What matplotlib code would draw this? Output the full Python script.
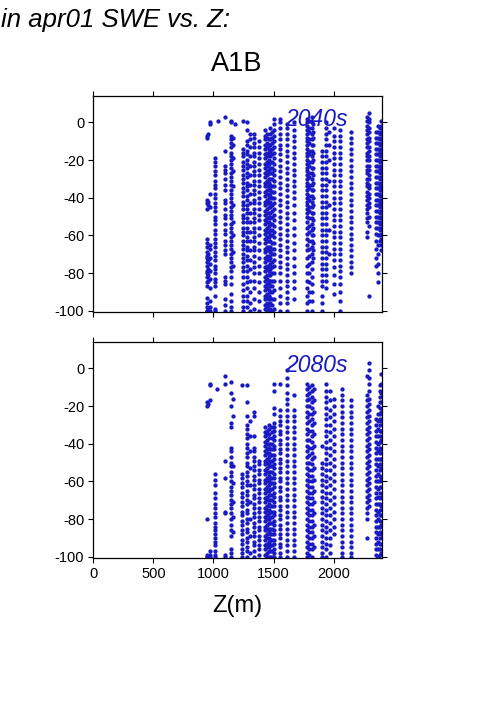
import numpy as np
import matplotlib.pyplot as plt

#==================#
# Data (read off)  #
#==================#

# column elevations (m) and the % change values found in each column
z_2040 = [945, 955, 972, 1010, 1035, 1097, 1150, 1160, 1178, 1247, 1283, 1300, 1339, 1383,
          1428, 1443, 1458, 1473, 1488, 1503, 1556, 1611, 1667, 1778, 1792, 1820, 1832,
          1903, 1940, 1958, 2000, 2056, 2145, 2280, 2295, 2350, 2368, 2385, 2398]
swe_2040 = [
    "-7 -8 -41 -43 -46 -62 -64 -66 -69 -71 -72 -74 -76 -79 -80 -82 -85 -87 -93 -96 -98 -100 -100",
    "-6 -42 -44 -70 -73 -78 -81 -84 -99 -100",
    "0 -1 -38 -45 -65 -67 -72 -75 -79 -83 -88 -95 -98 -100",
    "-19 -21 -23 -26 -28 -31 -33 -35 -38 -40 -43 -45 -47 -50 -52 -54 -57 -59 -62 -64 -66 -69 -71 -73 -76 -78 -80 -83 -85 -87 -92 -99 -100",
    "1",
    "3 -15 -23 -25 -27 -30 -33 -36 -41 -43 -46 -49 -51 -54 -57 -59 -63 -65 -68 -70 -82 -84 -86 -94 -97 -100",
    "1 0 -7 -9 -11 -13 -16 -18 -20 -22 -24 -27 -29 -31 -33 -36 -38 -40 -42 -45 -47 -49 -51 -54 -56 -58 -61 -63 -65 -67 -70 -72 -74 -77 -79 -82 -86 -91 -95 -98 -100",
    "-8 -12 -19 -26 -34 -44 -53 -60 -69 -76",
    "-1",
    "1 -14 -16 -18 -21 -23 -25 -28 -30 -32 -35 -37 -39 -42 -44 -46 -49 -51 -53 -56 -58 -60 -63 -65 -67 -70 -72 -74 -77 -79 -82 -86 -89 -92 -95 -98 -100",
    "0 -4 -10 -12 -15 -17 -20 -22 -24 -27 -29 -32 -34 -36 -39 -41 -44 -46 -48 -51 -53 -56 -58 -61 -63 -66 -68 -71 -73 -76 -79 -82 -85 -88 -92 -95 -98",
    "-6 -9 -13 -18 -23 -28 -33 -38 -43 -48 -53 -58 -63 -68 -73 -78 -84 -90 -96 -100",
    "-6 -8 -11 -13 -16 -18 -21 -23 -26 -28 -31 -33 -36 -38 -41 -43 -46 -48 -51 -53 -56 -58 -61 -63 -66 -68 -71 -74 -77 -80 -84 -88 -94 -99",
    "-10 -13 -16 -19 -22 -25 -28 -31 -34 -37 -40 -43 -46 -49 -52 -56 -60 -64 -68 -72 -76 -80 -85 -90 -95 -100",
    "-4 -7 -9 -12 -14 -17 -19 -22 -24 -27 -29 -32 -34 -37 -39 -42 -44 -47 -49 -52 -54 -57 -59 -62 -64 -67 -69 -72 -74 -77 -79 -82 -84 -87 -89 -92 -94 -97 -99",
    "-6 -8 -11 -13 -16 -18 -21 -23 -26 -28 -31 -33 -36 -38 -41 -43 -46 -48 -51 -53 -56 -58 -61 -63 -66 -68 -71 -73 -76 -78 -81 -83 -86 -88 -91 -93 -96 -98 -100",
    "-9 -12 -14 -17 -20 -22 -25 -27 -30 -32 -35 -38 -40 -43 -45 -48 -50 -53 -55 -58 -61 -63 -66 -68 -71 -73 -76 -79 -81 -84 -86 -89 -92 -94 -97 -100",
    "-3 -6 -9 -12 -15 -18 -21 -24 -27 -30 -33 -36 -39 -42 -45 -48 -51 -54 -57 -60 -63 -66 -69 -72 -75 -78 -81 -84 -87 -90 -93 -96 -99",
    "-5 -8 -11 -14 -17 -21 -24 -27 -30 -34 -37 -40 -44 -47 -50 -54 -57 -60 -64 -67 -70 -74 -77 -80 -84 -87 -90 -94 -97 -100",
    "2 -1 -4 -7 -10 -13 -16 -19 -22 -25 -28 -31 -34 -37 -40 -43 -46 -49 -52 -55 -58 -61 -64 -67 -70 -73 -76 -80 -84 -89 -94 -99",
    "2 0 -3 -6 -9 -12 -14 -17 -20 -23 -26 -29 -32 -35 -38 -41 -44 -47 -50 -53 -56 -59 -62 -65 -68 -71 -74 -77 -80 -84 -88 -92 -96 -100",
    "-1 -3 -6 -9 -12 -15 -18 -21 -24 -27 -30 -33 -36 -39 -42 -45 -48 -51 -54 -57 -60 -63 -66 -69 -72 -75 -78 -81 -84 -87 -90 -93 -96 -100",
    "0 -4 -7 -10 -13 -16 -19 -22 -25 -28 -31 -34 -37 -40 -44 -48 -52 -56 -60 -64 -68 -72 -76 -80 -84 -88 -94",
    "2 0 -2 -4 -6 -8 -10 -12 -14 -16 -18 -20 -22 -24 -26 -28 -30 -32 -34 -36 -38 -40 -42 -44 -46 -48 -50 -53 -56 -59 -62 -65 -68 -72 -76 -80 -84 -88 -92 -96 -100",
    "1 -3 -5 -9 -11 -15 -17 -21 -23 -27 -29 -33 -35 -39 -41 -45 -47 -51 -55 -58 -63 -67 -71 -75 -80 -85 -90 -95",
    "3 0 -3 -6 -9 -12 -15 -18 -21 -24 -27 -30 -33 -36 -39 -42 -45 -48 -51 -54 -57 -60 -63 -66 -70 -74 -78 -82 -86 -90 -95 -100",
    "-1 -5 -8 -12 -16 -20 -24 -28 -32 -36 -40 -44 -48 -52 -56 -60 -64 -68 -72",
    "-15 -18 -21 -24 -27 -30 -33 -36 -39 -42 -45 -48 -51 -54 -57 -60 -63 -66 -69 -72 -75 -78 -81 -84 -87 -92 -96 -100",
    "0 -3 -6 -9 -12 -15 -18 -21 -24 -27 -30 -33 -36 -39 -42 -45 -48 -51 -54 -57 -60 -63 -66 -69 -72 -75 -78 -81 -84 -88",
    "-5 -12 -20 -31 -44 -57 -70",
    "-3 -7 -10 -13 -16 -19 -22 -25 -28 -31 -34 -37 -40 -43 -46 -49 -52 -55 -58 -61 -64 -67 -70 -73 -77 -81 -86 -91",
    "-4 -7 -10 -13 -16 -19 -22 -25 -28 -31 -34 -37 -40 -43 -46 -49 -52 -55 -58 -61 -64 -67 -70 -73 -76 -79 -82 -86 -90 -95 -100",
    "-5 -8 -11 -14 -17 -20 -23 -26 -29 -32 -35 -38 -41 -44 -47 -50 -53 -56 -59 -62 -65 -68 -71 -74 -77 -80",
    "3 1 -2 -4 -6 -9 -11 -13 -16 -18 -20 -23 -25 -27 -30 -32 -34 -37 -39 -41 -44 -46 -48 -51 -53 -58 -61",
    "5 2 0 -3 -5 -8 -10 -13 -15 -18 -20 -23 -25 -28 -30 -33 -35 -38 -40 -43 -45 -50 -55 -92",
    "-5 -8 -11 -14 -17 -20 -23 -26 -29 -32 -35 -38 -41 -44 -47 -50 -53 -56 -59 -63 -67 -72 -76",
    "-2 -5 -8 -11 -14 -17 -20 -23 -26 -29 -32 -35 -38 -41 -44 -47 -50 -53 -56 -60 -65 -70 -75 -80 -85",
    "-3 -6 -9 -12 -15 -18 -21 -24 -27 -30 -33 -36 -39 -42 -45 -48 -51 -54 -57 -60 -63",
    "1 -2 -5 -8 -11 -14 -17 -20 -23 -26 -29 -32 -35 -38 -41 -44 -47 -50 -53 -56 -59 -62 -65 -68",
]

z_2080 = [945, 955, 972, 1012, 1030, 1094, 1150, 1160, 1240, 1283, 1300, 1339, 1383,
          1428, 1443, 1458, 1473, 1488, 1503, 1556, 1611, 1667, 1778, 1792, 1820, 1834,
          1903, 1940, 1972, 2000, 2066, 2145, 2278, 2292, 2350, 2368, 2385, 2398]
swe_2080 = [
    "-20 -18 -80 -99 -100 -100",
    "-19 -100",
    "-9 -8 -17 -97 -99 -100",
    "-56 -59 -62 -66 -69 -72 -74 -77 -79 -82 -84 -86 -88 -90 -92 -94 -97 -99 -100",
    "-11",
    "-4 -8 -49 -58 -76 -77 -99 -100",
    "-7 -13 -20 -29 -31 -42 -44 -47 -50 -52 -55 -57 -60 -63 -65 -67 -70 -72 -74 -77 -80 -83 -86 -89 -96 -98 -100",
    "-16 -25 -52 -61 -71 -79 -87",
    "-9 -56 -58 -61 -63 -66 -68 -71 -73 -76 -78 -81 -83 -86 -88 -91 -93 -96 -98 -100",
    "-9 -18 -25 -30 -32 -35 -37 -40 -42 -45 -47 -50 -52 -55 -57 -60 -62 -65 -67 -70 -72 -75 -77 -80 -82 -85 -87 -90 -92 -95 -97 -100",
    "-28 -36 -44 -53 -62 -71 -80 -89 -98",
    "-23 -25 -36 -42 -44 -47 -49 -52 -54 -57 -59 -62 -64 -67 -69 -72 -74 -77 -79 -82 -84 -87 -89 -92 -94 -97 -100",
    "-49 -51 -54 -56 -59 -61 -64 -66 -69 -71 -74 -76 -79 -81 -84 -86 -89 -91 -94 -96 -99",
    "-31 -34 -36 -39 -41 -44 -46 -49 -51 -54 -56 -59 -61 -64 -66 -69 -71 -74 -76 -79 -81 -84 -86 -89 -91 -94 -96 -99",
    "-33 -35 -38 -40 -43 -45 -48 -50 -53 -55 -58 -60 -63 -65 -68 -70 -73 -75 -78 -80 -83 -85 -88 -90 -93 -95 -98 -100",
    "-30 -32 -35 -37 -40 -42 -45 -47 -50 -52 -55 -57 -60 -62 -65 -67 -70 -72 -75 -77 -80 -82 -85 -87 -90 -92 -95 -97 -100",
    "-40 -43 -46 -49 -52 -55 -58 -61 -64 -67 -70 -73 -76 -79 -82 -85 -88 -91 -94 -97 -100",
    "-31 -34 -37 -40 -43 -46 -49 -52 -55 -58 -61 -64 -67 -70 -73 -76 -79 -82 -85 -88 -91 -94 -97 -100",
    "-8 -12 -21 -24 -29 -31 -33 -36 -38 -41 -43 -46 -48 -51 -53 -56 -58 -61 -63 -66 -68 -71 -73 -76 -78 -81 -83 -86 -88 -91 -93 -96 -98 -100",
    "-8 -22 -25 -28 -30 -33 -35 -38 -40 -43 -45 -48 -50 -53 -55 -58 -60 -63 -65 -68 -70 -73 -75 -78 -80 -83 -85 -88 -90 -93 -95 -98 -100",
    "-1 -5 -9 -13 -16 -19 -22 -25 -28 -31 -34 -37 -40 -43 -46 -49 -52 -55 -58 -61 -64 -67 -70 -73 -76 -79 -82 -85 -88 -91 -94 -97 -100",
    "-14 -22 -25 -28 -31 -34 -37 -40 -43 -46 -49 -52 -55 -58 -61 -64 -67 -70 -73 -76 -79 -82 -85 -88 -91 -94 -97 -100",
    "-8 -11 -14 -17 -20 -23 -26 -29 -32 -35 -38 -41 -44 -47 -50 -53 -56 -59 -62 -65 -68 -71 -74 -77 -80 -83 -86 -89 -92 -95 -98 -100",
    "-10 -13 -16 -20 -24 -28 -33 -38 -42 -46 -50 -54 -57 -60 -63 -66 -69 -72 -75 -78 -81 -84 -87 -90 -93 -96 -99",
    "-9 -12 -15 -18 -21 -24 -27 -30 -33 -36 -39 -42 -45 -48 -51 -54 -57 -60 -63 -66 -69 -72 -75 -78 -81 -84 -87 -90 -93 -96 -100",
    "-11 -17 -23 -29 -35 -41 -47 -53 -59 -65 -71 -77 -83 -89 -95",
    "-41 -50 -53 -56 -59 -62 -65 -68 -71 -74 -77 -80 -83 -86 -89 -92 -95 -98 -100",
    "-8 -12 -15 -18 -21 -24 -27 -30 -33 -36 -39 -42 -45 -48 -51 -54 -57 -60 -63 -66 -69 -72 -75 -78 -81 -84 -87 -90 -93 -96 -100",
    "-12 -17 -22 -26 -30 -34 -38 -42 -46 -50 -54 -58 -62 -66 -70 -74 -78 -82 -86 -90 -94 -98",
    "-16 -20 -24 -28 -32 -36 -40 -44 -48 -52 -56 -60 -64 -68 -72 -76 -80 -84 -88",
    "-11 -14 -17 -20 -23 -26 -29 -32 -35 -38 -41 -44 -47 -50 -53 -56 -59 -62 -65 -68 -71 -74 -77 -80 -83 -86 -89 -92 -95 -98 -100",
    "-17 -20 -23 -26 -29 -32 -35 -38 -41 -44 -47 -50 -53 -56 -59 -62 -65 -68 -71 -74 -77 -80 -83 -86 -89 -92 -95 -98 -100",
    "-4 -14 -17 -20 -23 -26 -29 -32 -35 -38 -41 -44 -47 -50 -53 -56 -59 -62 -65 -68 -71 -74 -77 -80 -90",
    "3 -1 -5 -8 -12 -16 -19 -22 -25 -28 -31 -34 -37 -40 -43 -46 -49 -52 -55 -58 -61 -64 -67 -70 -73",
    "-27 -30 -33 -36 -39 -42 -45 -48 -51 -54 -57 -60 -63 -66 -69 -72 -75 -78 -81 -84 -87 -90 -93 -96 -99",
    "-20 -24 -28 -32 -36 -40 -44 -48 -52 -56 -60 -64 -68 -72 -76 -80 -84 -88 -92 -96 -100",
    "-9 -12 -15 -18 -21 -24 -27 -30 -33 -36 -39 -42 -45 -48 -51 -54 -57 -60 -63 -66 -69 -72 -75 -78 -81 -84 -87 -90 -93 -96 -99",
    "-3 -8 -13 -18 -23 -28 -33 -38 -43 -48 -53 -58 -63 -68 -73 -78 -83 -88 -93 -98",
]

periods = ["2040s", "2080s"]
xticks = [0, 500, 1000, 1500, 2000]
yticks = [0, -20, -40, -60, -80, -100]

#==============#
# Diagram Plot #
#==============#

plt.rcParams['font.family'] = ['Liberation Sans', 'DejaVu Sans']
plt.rcParams['axes.unicode_minus'] = False
blue = '#1a1ac4'

fig = plt.figure(figsize=(5.01, 7.09), dpi=100)
ax_top = fig.add_axes([0.1862, 0.5604, 0.5757, 0.3046])
ax_bot = fig.add_axes([0.1862, 0.2134, 0.5757, 0.3046])


def columns_to_points(zs, cols):
    xs, ys = [], []
    for z, col in zip(zs, cols):
        vals = [float(v) for v in col.split()]
        xs += [z] * len(vals)
        ys += vals
    return np.array(xs), np.array(ys)


for ax, zs, cols, label in [(ax_top, z_2040, swe_2040, periods[0]),
                            (ax_bot, z_2080, swe_2080, periods[1])]:
    x, y = columns_to_points(zs, cols)
    ax.plot(x, y, 'o', color=blue, markersize=3.1, markeredgewidth=0, linestyle='none')
    ax.set_xlim(0, 2400)
    ax.set_ylim(-100.5, 14.2)
    ax.set_xticks(xticks)
    ax.set_yticks(yticks)
    ax.tick_params(direction='out', length=3.5, width=0.8, labelsize=10.5,
                   top=True, right=True, pad=3)
    for s in ax.spines.values():
        s.set_linewidth(0.9)
    ax.text(2120, -2, label, color=blue, fontsize=16.5, style='italic',
            ha='right', va='baseline')

ax_top.tick_params(labelbottom=False)
ax_bot.set_xlabel('Z(m)', fontsize=17, labelpad=10)

fig.text(0.002, 0.962, 'in apr01 SWE vs. Z:', fontsize=18.5, style='italic',
         ha='left', va='baseline')
fig.text(0.472, 0.9, 'A1B', fontsize=19.5, ha='center', va='baseline')

plt.savefig('out.png', dpi=100)
